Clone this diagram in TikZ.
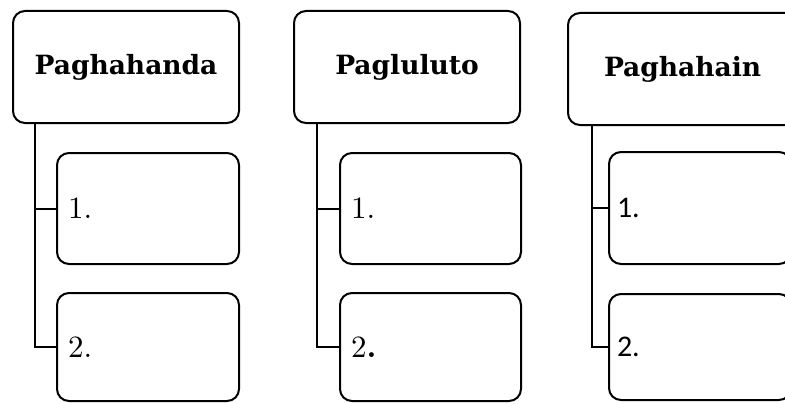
\documentclass[tikz,border=0pt]{standalone}
\usepackage{fontspec}
\newfontfamily\headfont{DejaVu Serif}
\newfontfamily\carl{Carlito}
\newfontfamily\numfont{lmroman10-regular}[Extension=.otf,BoldFont=lmroman10-bold]
\begin{document}
\begin{tikzpicture}[x=1pt,y=-1pt,
  box/.style={draw,line width=2pt,rounded corners=12pt,anchor=north west,inner sep=0pt,fill=white},
  headbox/.style={box,font=\headfont\bfseries\fontsize{26.5}{30}\selectfont},
  itembox/.style={box,align=left,font=\numfont\fontsize{31}{34}\selectfont},
  conn/.style={line width=2pt}]
\useasboundingbox (0,0) rectangle (785,404);
\clip (0,0) rectangle (785,404);
% column 1
\node[headbox,minimum width=226pt,minimum height=112pt] (h1) at (12,10) {Paghahanda};
\node[itembox,minimum width=182pt,minimum height=111pt,text width=160pt] (c11) at (56,152) {1.};
\node[itembox,minimum width=182pt,minimum height=108pt,text width=160pt] (c12) at (56,292) {2.};
\draw[conn] ([xshift=23pt]h1.south west) |- (c11.west);
\draw[conn] ([xshift=23pt]h1.south west) |- (c12.west);
% column 2
\node[headbox,minimum width=226pt,minimum height=112pt] (h2) at (293,10) {Pagluluto};
\node[itembox,minimum width=181pt,minimum height=111pt,text width=159pt] (c21) at (339,152) {1.};
\node[itembox,minimum width=181pt,minimum height=108pt,text width=159pt] (c22) at (339,292) {2\textbf{.}};
\draw[conn] ([xshift=24pt]h2.south west) |- (c21.west);
\draw[conn] ([xshift=24pt]h2.south west) |- (c22.west);
% column 3
\node[headbox,minimum width=240pt,minimum height=112pt,text width=220pt,align=left] (h3) at (567,12) {\hspace*{26pt}Paghahain};
\node[itembox,font=\carl\fontsize{30}{33}\selectfont,minimum width=182pt,minimum height=112pt,text width=166pt] (c31) at (608,151) {1.};
\node[itembox,font=\carl\fontsize{30}{33}\selectfont,minimum width=182pt,minimum height=106pt,text width=166pt] (c32) at (608,293) {2.};
\draw[conn] ([xshift=25pt]h3.south west) |- (c31.west);
\draw[conn] ([xshift=25pt]h3.south west) |- (c32.west);
\end{tikzpicture}
\end{document}
